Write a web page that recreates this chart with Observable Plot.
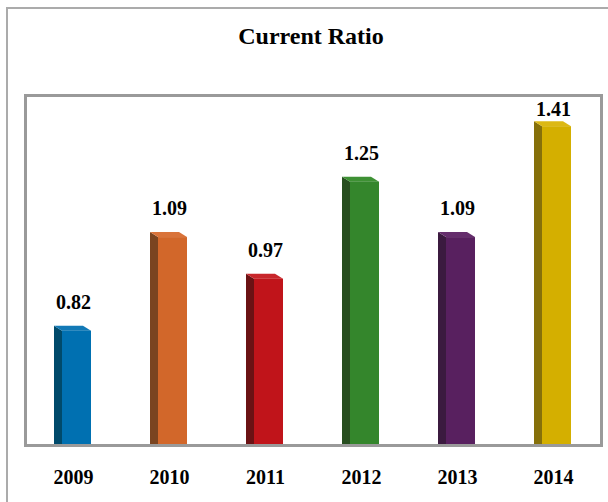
<!DOCTYPE html>
<html>
<head>
<meta charset="utf-8">
<script src="https://cdn.jsdelivr.net/npm/d3@7"></script>
<script src="https://cdn.jsdelivr.net/npm/@observablehq/plot@0.6"></script>
<style>
  html, body { margin: 0; padding: 0; background: #fff; width: 608px; height: 502px; overflow: hidden; }
  #outer { position: absolute; left: 6px; top: 7px; width: 700px; height: 600px; border-left: 2px solid #ababab; border-top: 2px solid #ababab; }
  #title { position: absolute; left: 0; top: 24px; width: 622px; text-align: center; font: bold 24px/24px "Liberation Serif", "Times New Roman", serif; color: #000; }
  #chart { position: absolute; left: 0; top: 60px; }
</style>
</head>
<body>
<div id="outer"></div>
<div id="title">Current Ratio</div>
<div id="chart"></div>
<script>
// Data
const years = ["2009", "2010", "2011", "2012", "2013", "2014"];
const values = [0.82, 1.09, 0.97, 1.25, 1.09, 1.41];

// Palette (styles)
const frontColors = ["#0070b1", "#d2672a", "#c0141a", "#34862c", "#58205f", "#d4af00"];
const sideColors  = ["#004a6b", "#7a4420", "#6b1214", "#274e1f", "#3b1a3f", "#86700a"];
const topColors   = ["#1279b6", "#d9733a", "#c8262b", "#3e9134", "#652d6c", "#dcb814"];

const data = years.map((year, i) => ({year, value: values[i], i}));
const yMin = 0.49, yMax = 1.5;

// 3D side and top faces, positioned through Plot's scales
function faces(index, scales) {
  const g = d3.create("svg:g");
  const bw = scales.x.bandwidth ? scales.x.bandwidth() : 96;
  const k = bw / 96;
  const depthX = 8 * k, depthY = 5;
  for (const d of data) {
    const band = scales.x(d.year);
    const xa = band + 37 * k, xb = band + 66 * k;
    const yt = scales.y(d.value), yb = scales.y(yMin);
    g.append("polygon")
      .attr("points", [[xa - depthX, yt - depthY], [xa, yt], [xa, yb], [xa - depthX, yb]].join(" "))
      .attr("fill", sideColors[d.i]);
    g.append("polygon")
      .attr("points", [[xa, yt], [xb, yt], [xb - depthX, yt - depthY], [xa - depthX, yt - depthY]].join(" "))
      .attr("fill", topColors[d.i]);
  }
  return g.node();
}

const chart = Plot.plot({
  width: 608,
  height: 442,
  marginLeft: 25,
  marginRight: 7,
  marginTop: 35,
  marginBottom: 57,
  style: {fontFamily: "'Liberation Serif', 'Times New Roman', serif", fontSize: "20px", fontWeight: "bold", color: "#000", background: "transparent"},
  x: {domain: years, padding: 0, tickSize: 0, tickPadding: 24, label: null},
  y: {domain: [yMin, yMax], axis: null},
  color: {domain: years, range: frontColors},
  marks: [
    faces,
    Plot.barY(data, {x: "year", y1: yMin, y2: "value", fill: "year", insetLeft: 37, insetRight: 30}),
    Plot.frame({stroke: "#9a9a9a", strokeWidth: 3}),
    // labels kept inside the plot area, as the original does for the tallest bar
    Plot.text(data, {x: "year", y: d => Math.min(d.value, yMax - 0.125), text: d => d.value.toFixed(2), dy: -29, fill: "#000", fontSize: 20, fontWeight: "bold"})
  ]
});
document.getElementById("chart").appendChild(chart);
</script>
</body>
</html>
